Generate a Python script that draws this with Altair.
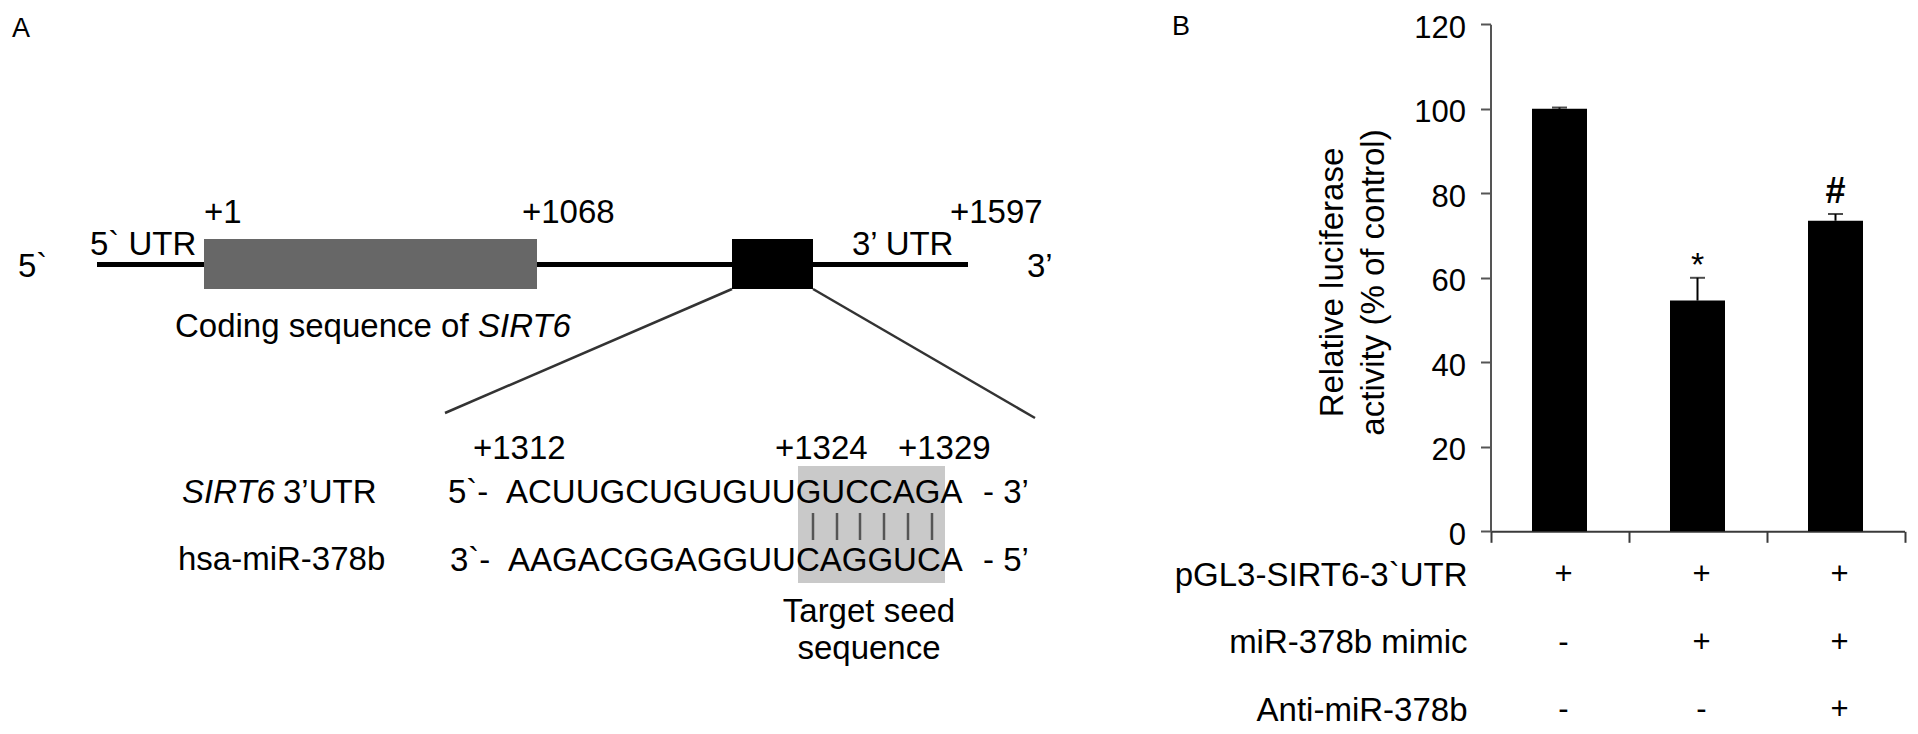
import altair as alt
import pandas as pd

# ---------------- Panel B values ----------------
groups = ["Control", "Mimic", "Mimic + Anti"]
activity = [100.0, 54.6, 73.5]
sem = [0.3, 5.4, 1.6]
significance = ["", "*", "#"]
table_rows = ["pGL3-SIRT6-3`UTR", "miR-378b mimic", "Anti-miR-378b"]
table_signs = [["+", "+", "+"], ["-", "+", "+"], ["-", "-", "+"]]
y_ticks = [0, 20, 40, 60, 80, 100, 120]
y_title = ["Relative luciferase", "activity (% of control)"]

# ---------------- Panel A text ----------------
utr_seq = "ACUUGCUGUGUUGUCCAGA"
mir_seq = "AAGACGGAGGUUCAGGUCA"
seed_pairs = 6

# ---------------- layout (page pixels) ----------------
W, H, M = 1902, 726, 8
FONT = "Liberation Sans"
DX = alt.Scale(domain=[M, W + M], range=[0, W], zero=False, nice=False)
DY = alt.Scale(domain=[M, H + M], range=[0, H], zero=False, nice=False)

gene_line = [(97, 264.5, 968, 264.5)]
diagonals = [(732, 289, 445, 413), (813, 289, 1035, 418)]
pair_x = [813, 837, 860, 884, 908, 932]
pair_y = (513, 540)
coding_box = (204, 537, 239, 289)
target_box = (732, 813, 239, 289)
seed_box = (798, 945, 466, 583)

left_texts = [
    ("5`", 18, 277), ("5` UTR", 90, 255), ("+1", 204, 223), ("+1068", 522, 223),
    ("3’ UTR", 852, 255), ("+1597", 950, 223), ("3’", 1027, 277),
    ("Coding sequence of", 175, 337), ("3’UTR", 283, 503), ("hsa-miR-378b", 178, 570),
    ("5`-", 448, 503), ("3`-", 450, 571), (utr_seq, 506, 503), (mir_seq, 508, 571),
    ("- 3’", 983, 503), ("- 5’", 983, 571),
    ("+1312", 473, 459), ("+1324", 775, 459), ("+1329", 898, 459),
]
italic_texts = [("SIRT6", 478, 337), ("SIRT6", 182, 503)]
center_texts = [("Target seed", 869, 622), ("sequence", 869, 659)]
panel_letters = [("A", 12, 37), ("B", 1172, 35)]


def seg_df(segs):
    return pd.DataFrame(segs, columns=["x", "y", "x2", "y2"])


def seg_layer(segs, width, color):
    return alt.Chart(seg_df(segs)).mark_rule(strokeWidth=width, color=color, strokeCap="butt").encode(
        x=alt.X("x:Q", scale=DX, axis=None), y=alt.Y("y:Q", scale=DY, axis=None),
        x2="x2:Q", y2="y2:Q")


def rect_layer(box, color):
    df = pd.DataFrame([box], columns=["x", "x2", "y", "y2"])
    return alt.Chart(df).mark_rect(color=color).encode(
        x=alt.X("x:Q", scale=DX, axis=None), x2="x2:Q",
        y=alt.Y("y:Q", scale=DY, axis=None), y2="y2:Q")


def text_layer(items, align="left", style="normal", size=33):
    df = pd.DataFrame(items, columns=["label", "x", "y"])
    return alt.Chart(df).mark_text(align=align, baseline="alphabetic", font=FONT, fontSize=size,
                                   fontStyle=style, color="black").encode(
        x=alt.X("x:Q", scale=DX, axis=None), y=alt.Y("y:Q", scale=DY, axis=None), text="label:N")


diagram = alt.layer(
    seg_layer(gene_line, 5, "black"),
    rect_layer(coding_box, "#676767"),
    rect_layer(target_box, "black"),
    seg_layer(diagonals, 2.5, "#333333"),
    rect_layer(seed_box, "#c9c9c9"),
    seg_layer([(px, pair_y[0], px, pair_y[1]) for px in pair_x[:seed_pairs]], 2.5, "#555555"),
    text_layer(left_texts),
    text_layer(italic_texts, style="italic"),
    text_layer(center_texts, align="center"),
    text_layer(panel_letters, size=27),
)

# ---------------- Panel B ----------------
bar_df = pd.DataFrame({"group": groups, "activity": activity, "sem": sem, "sig": significance})
bar_df["upper"] = bar_df["activity"] + bar_df["sem"]

AX0, AX1 = 1490.5, 1904.5      # x-axis extent (page px)
Y0, Y120 = 531.3, 24.3         # y of 0 and 120 (page px)
XB = alt.Scale(domain=groups, range=[AX0 - M, AX1 - M], paddingInner=0, paddingOuter=0)
YB = alt.Scale(domain=[0, 120], range=[Y0 - M, Y120 - M], zero=True, nice=False)

x_axis = alt.Axis(orient="bottom", offset=(Y0 - M) - H, title=None, labels=False, tickBand="extent",
                  tickSize=11, tickWidth=2, tickColor="#3a3a3a", domainColor="#3a3a3a",
                  domainWidth=2, grid=False)
y_axis = alt.Axis(orient="left", offset=-(AX0 - M), values=y_ticks, grid=False,
                  tickSize=10, tickWidth=2, tickColor="#555555", domainColor="#555555", domainWidth=2,
                  labelFont=FONT, labelFontSize=31, labelColor="black", labelPadding=15, labelOffset=4,
                  labelOverlap=False,
                  title=y_title, titleFont=FONT, titleFontSize=33, titleFontWeight="normal",
                  titleColor="black", titleAngle=270, titleAlign="center", titleBaseline="alphabetic",
                  titleLineHeight=41, titleX=1342 - AX0, titleY=282 - M)

xb = alt.X("group:N", scale=XB, axis=x_axis)
base = alt.Chart(bar_df)
bars = base.mark_bar(width=55, color="black").encode(x=xb, y=alt.Y("activity:Q", scale=YB, axis=y_axis))
err = base.mark_rule(color="black", strokeWidth=2).encode(
    x=xb, y=alt.Y("activity:Q", scale=YB, axis=y_axis), y2="upper:Q")
caps = base.mark_tick(color="black", thickness=2, size=15).encode(
    x=xb, y=alt.Y("upper:Q", scale=YB, axis=y_axis))
star = base.transform_filter(alt.datum.sig == "*").mark_text(
    font=FONT, fontSize=34, baseline="alphabetic", dy=-2, color="black").encode(
    x=xb, y=alt.Y("upper:Q", scale=YB, axis=y_axis), text="sig:N")
hash_ = base.transform_filter(alt.datum.sig == "#").mark_text(
    font=FONT, fontSize=36, fontWeight="bold", baseline="alphabetic", dy=-11, color="black").encode(
    x=xb, y=alt.Y("upper:Q", scale=YB, axis=y_axis), text="sig:N")
bars_core = alt.layer(bars, err, caps, star, hash_)

table_df = pd.DataFrame([
    {"row": r, "group": g, "sign": table_signs[i][j]}
    for i, r in enumerate(table_rows) for j, g in enumerate(groups)
])
YT = alt.Scale(domain=table_rows, range=[541.25 - M, 743.75 - M], paddingInner=0, paddingOuter=0)
row_axis = alt.Axis(orient="left", offset=-(AX0 - M), title=None, domain=False, ticks=False, tickSize=0,
                    labelPadding=AX0 - 1467, labelFont=FONT, labelFontSize=33, labelColor="black",
                    labelLimit=600, labelOverlap=False, grid=False)
table = alt.Chart(table_df).mark_text(font=FONT, fontSize=31, align="center", baseline="middle",
                                      dx=4, color="black").encode(
    x=xb, y=alt.Y("row:N", scale=YT, axis=row_axis), text="sign:N")

panel_b = alt.layer(bars_core, table).resolve_scale(y="independent")

chart = alt.layer(diagram, panel_b).resolve_scale(x="independent", y="independent").properties(
    width=W, height=H, padding=0, autosize=alt.AutoSizeParams(type="none"),
    background="white",
).configure_view(strokeWidth=0)

chart.save("out.html", embed_options={"renderer": "svg", "actions": False})
